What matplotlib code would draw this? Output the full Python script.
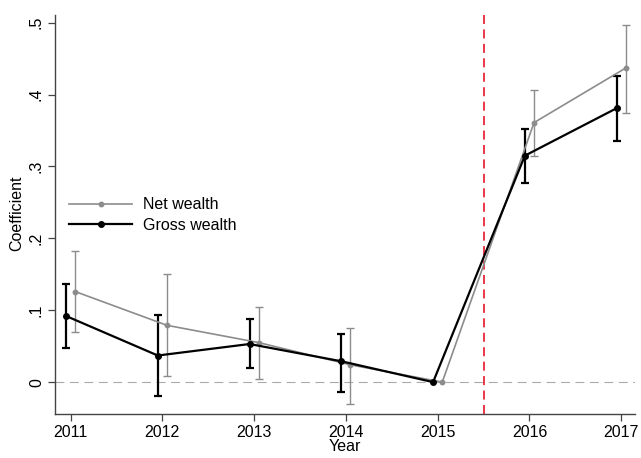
import matplotlib
matplotlib.use("Agg")
import matplotlib.pyplot as plt
import numpy as np

plt.rcParams['font.family'] = ['Liberation Sans', 'DejaVu Sans']

years = [2011, 2012, 2013, 2014, 2015, 2016, 2017]
gross = [0.092, 0.037, 0.053, 0.029, 0.0, 0.315, 0.381]
gross_lo = [0.048, -0.019, 0.019, -0.014, 0.0, 0.277, 0.336]
gross_hi = [0.136, 0.093, 0.088, 0.067, 0.0, 0.352, 0.426]
net = [0.126, 0.079, 0.055, 0.024, 0.0, 0.361, 0.437]
net_lo = [0.070, 0.008, 0.005, -0.031, 0.0, 0.315, 0.375]
net_hi = [0.182, 0.151, 0.105, 0.075, 0.0, 0.406, 0.497]
yticks = [0, 0.1, 0.2, 0.3, 0.4, 0.5]
ytick_labels = ["0", ".1", ".2", ".3", ".4", ".5"]

fs = 11.5
fig = plt.figure(figsize=(6.41, 4.58), dpi=100)
ax = fig.add_axes([0.0858, 0.096, 0.9048, 0.878])

yr = np.array(years, dtype=float)
g = np.array(gross); n = np.array(net)
gerr = [g - np.array(gross_lo), np.array(gross_hi) - g]
nerr = [n - np.array(net_lo), np.array(net_hi) - n]

gray = '#8c8c8c'
ax.axhline(0, color='#aaaaaa', lw=0.8, ls=(0, (8, 5)), zorder=1)
ax.axvline(2015.5, color='#e8273a', lw=1.3, ls=(0, (5, 3)), zorder=1)

mask = np.array(years) != 2015
ax.errorbar(yr[mask] + 0.05, n[mask], yerr=[e[mask] for e in nerr], fmt='none',
            ecolor=gray, elinewidth=1.0, capsize=3.2, capthick=1.0, zorder=2)
ax.errorbar(yr[mask] - 0.05, g[mask], yerr=[e[mask] for e in gerr], fmt='none',
            ecolor='black', elinewidth=1.6, capsize=3.2, capthick=1.6, zorder=3)
ax.plot(yr + 0.05, n, color=gray, lw=1.2, marker='o', ms=3.2, mfc=gray, mec=gray,
        label='Net wealth', zorder=4)
ax.plot(yr - 0.05, g, color='black', lw=1.6, marker='o', ms=4, mfc='black', mec='black',
        label='Gross wealth', zorder=5)

ax.set_xlim(2010.83, 2017.15)
ax.set_ylim(-0.0444, 0.515)
ax.set_xticks(years)
ax.set_xticklabels([str(y) for y in years], fontsize=fs)
ax.set_yticks(yticks)
ax.set_yticklabels(ytick_labels, fontsize=fs, rotation=90, va='center')
ax.tick_params(direction='out', length=5, width=0.9, color='#444444', pad=3)
for s in ['top', 'right']:
    ax.spines[s].set_visible(False)
for s in ['left', 'bottom']:
    ax.spines[s].set_color('#444444')
    ax.spines[s].set_linewidth(1.0)
ax.spines['left'].set_bounds(-0.0444, 0.511)

ax.set_xlabel('Year', fontsize=fs, labelpad=-1)
ax.set_ylabel('Coefficient', fontsize=fs, labelpad=3)

ax.legend(loc='upper left', bbox_to_anchor=(0.0, 0.575), frameon=False,
          fontsize=fs, handlelength=3.9, handletextpad=0.7, labelspacing=0.35)

fig.savefig('out.png', dpi=100)
